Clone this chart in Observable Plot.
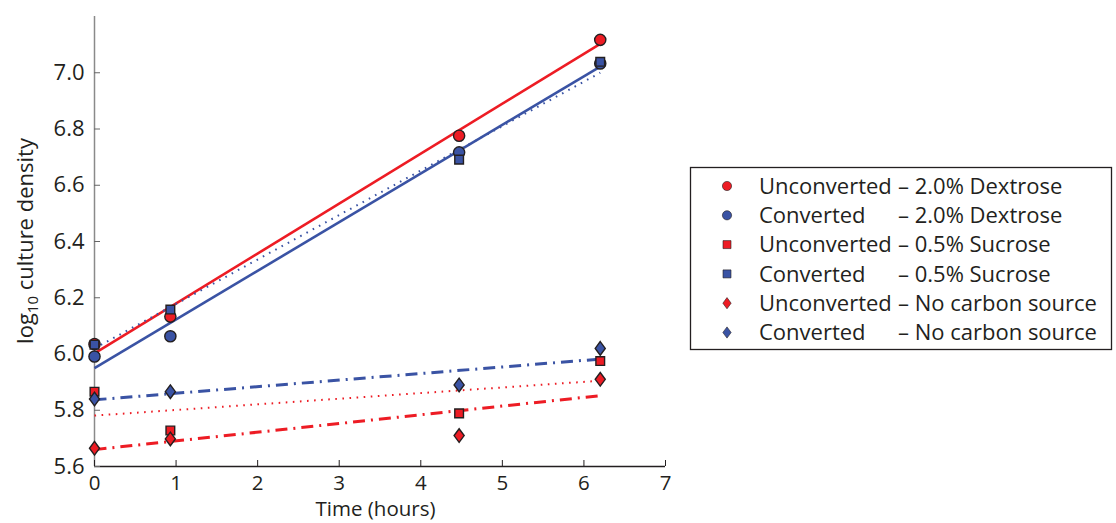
<!DOCTYPE html>
<html><head><meta charset="utf-8">
<script src="https://cdn.jsdelivr.net/npm/d3@7"></script>
<script src="https://cdn.jsdelivr.net/npm/@observablehq/plot@0.6"></script>
<style>
body{margin:0;background:#fff;}
#wrap{position:relative;width:1116px;height:523px;font-family:"Open Sans",sans-serif;color:#231F20;}
#legend{position:absolute;left:0;top:0;}
</style></head><body><div id="wrap"></div>
<script>
// ---- data ----
const times = [0, 0.93, 4.47, 6.2];
const strains = ["Unconverted", "Converted"];
const media = ["2.0% Dextrose", "0.5% Sucrose", "No carbon source"];
const unconvDextrose = [6.035, 6.133, 6.776, 7.117];
const convDextrose   = [5.991, 6.063, 6.717, 7.033];
const unconvSucrose  = [5.866, 5.728, 5.789, 5.975];
const convSucrose    = [6.033, 6.158, 6.691, 7.039];
const unconvNoCarbon = [5.665, 5.698, 5.710, 5.910];
const convNoCarbon   = [5.840, 5.866, 5.890, 6.020];
// fitted trend lines (start, end)
const fitTimes = [0, 6.2];
const fitUnconvDextrose = [6.002, 7.103];
const fitConvDextrose   = [5.950, 7.022];
const fitUnconvSucrose  = [5.781, 5.905];
const fitConvSucrose    = [6.020, 7.000];
const fitUnconvNoCarbon = [5.660, 5.852];
const fitConvNoCarbon   = [5.837, 5.982];
const xTicks = [0, 1, 2, 3, 4, 5, 6, 7];
const yTicks = [5.6, 5.8, 6.0, 6.2, 6.4, 6.6, 6.8, 7.0];

// ---- styles ----
const RED = "#ED1C24", BLUE = "#3A53A4", INK = "#231F20";
const FS = 22, FSX = 20.5;
const strainColor = {Unconverted: RED, Converted: BLUE};
const tallDiamond = {
  draw(ctx, size) {
    const R = Math.sqrt(size / Math.PI);
    const w = 0.9 * R, h = 1.22 * R;
    ctx.moveTo(0, -h); ctx.lineTo(w, 0); ctx.lineTo(0, h); ctx.lineTo(-w, 0); ctx.closePath();
  }
};
const mediumSymbol = {"2.0% Dextrose": "circle", "0.5% Sucrose": "square", "No carbon source": tallDiamond};
const mediumR = {"2.0% Dextrose": 5.6, "0.5% Sucrose": 4.9, "No carbon source": 5.6};
const mediumDash = {"2.0% Dextrose": null, "0.5% Sucrose": "1.6,5.5", "No carbon source": "12,6,2,6"};
const mediumWidth = {"2.0% Dextrose": 2.6, "0.5% Sucrose": 2, "No carbon source": 3};

const seriesDefs = [
  ["Unconverted", "2.0% Dextrose", unconvDextrose, fitUnconvDextrose],
  ["Converted", "2.0% Dextrose", convDextrose, fitConvDextrose],
  ["Unconverted", "0.5% Sucrose", unconvSucrose, fitUnconvSucrose],
  ["Converted", "0.5% Sucrose", convSucrose, fitConvSucrose],
  ["Unconverted", "No carbon source", unconvNoCarbon, fitUnconvNoCarbon],
  ["Converted", "No carbon source", convNoCarbon, fitConvNoCarbon]
];

const lineMarks = seriesDefs.map(([s, m, vals, fit]) =>
  Plot.line(fitTimes.map((t, i) => ({t, v: fit[i]})), {
    x: "t", y: "v", stroke: strainColor[s], strokeWidth: mediumWidth[m],
    strokeDasharray: mediumDash[m], strokeLinecap: "butt"
  }));
const dotMarks = seriesDefs.map(([s, m, vals]) =>
  Plot.dot(times.map((t, i) => ({t, v: vals[i]})), {
    x: "t", y: "v", symbol: mediumSymbol[m], r: mediumR[m],
    fill: strainColor[s], stroke: INK, strokeWidth: 1.4
  }));

const svg = Plot.plot({
  width: 1116, height: 523,
  marginLeft: 94, marginRight: 451, marginTop: 16, marginBottom: 57,
  style: {fontFamily: "'Open Sans', sans-serif", fontSize: FS + "px", color: INK, background: "transparent", overflow: "visible"},
  x: {domain: [0, 7]},
  y: {domain: [5.6, 7.2]},
  marks: [
    Plot.ruleY([5.6], {stroke: INK, strokeWidth: 1.5}),
    Plot.ruleX([0], {stroke: "#8a8a8a", strokeWidth: 1.5}),
    Plot.axisX({ticks: xTicks, tickSize: -6, tickPadding: 15, tickFormat: d3.format("d"), label: null, stroke: INK, fill: INK, fontSize: FSX}),
    Plot.axisY({ticks: yTicks, tickSize: -6, tickPadding: 16, tickFormat: d3.format(".1f"), label: null, stroke: "#666", fill: INK}),
    ...lineMarks,
    ...dotMarks
  ]
});
document.getElementById("wrap").appendChild(svg);

const sel = d3.select(svg);
const xs = svg.scale("x");
// x label
sel.append("text").attr("x", xs.apply(3.5) - 4).attr("y", 516.3)
  .attr("text-anchor", "middle").attr("fill", INK).attr("font-size", FSX).text("Time (hours)");
// y label with subscript
const yl = sel.append("text").attr("transform", "translate(33,241) rotate(-90)")
  .attr("text-anchor", "middle").attr("fill", INK).attr("font-size", FS);
yl.append("tspan").text("log");
yl.append("tspan").attr("font-size", 15).attr("dy", 5).text("10");
yl.append("tspan").attr("dy", -5).text(" culture density");

// legend
const lg = d3.select("#wrap").append("svg").attr("id", "legend").attr("width", 1116).attr("height", 523)
  .style("font-family", "'Open Sans', sans-serif");
lg.append("rect").attr("x", 690.5).attr("y", 167.5).attr("width", 421).attr("height", 182)
  .attr("fill", "#fff").attr("stroke", INK).attr("stroke-width", 1.3);
seriesDefs.forEach(([s, m], i) => {
  const cy = 186 + i * 29.3;
  const g = lg.append("g").attr("transform", `translate(727,${cy})`);
  const sym = mediumSymbol[m];
  const path = typeof sym === "string"
    ? d3.symbol(sym === "circle" ? d3.symbolCircle : d3.symbolSquare, sym === "circle" ? Math.PI * 4.6 * 4.6 : 64)()
    : d3.symbol(sym, Math.PI * 4.6 * 4.6)();
  g.append("path").attr("d", path).attr("fill", strainColor[s]).attr("stroke", INK).attr("stroke-width", 0.6);
  lg.append("text").attr("x", 759).attr("y", cy).attr("dy", "0.35em").attr("font-size", FS).attr("fill", INK).text(s);
  lg.append("text").attr("x", 898).attr("y", cy).attr("dy", "0.35em").attr("font-size", FS).attr("fill", INK).text("– " + m);
});
</script></body></html>
